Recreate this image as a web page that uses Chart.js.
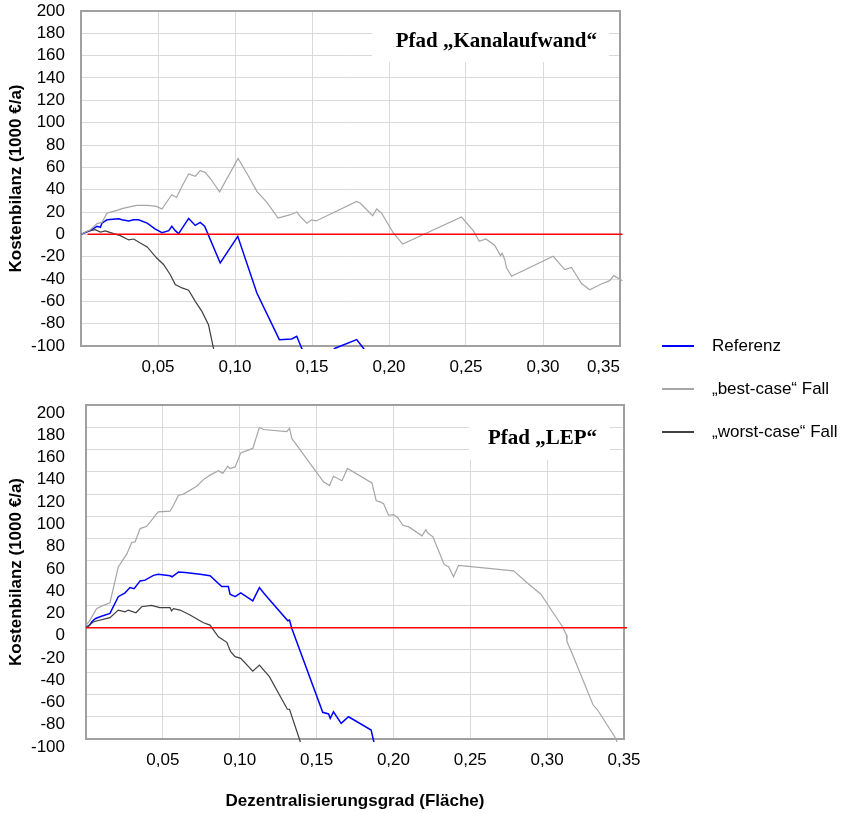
<!DOCTYPE html>
<html lang="de">
<head>
<meta charset="utf-8">
<title>Kostenbilanz</title>
<script src="https://cdn.jsdelivr.net/npm/chart.js@4.4.1/dist/chart.umd.min.js"></script>
<style>
  body { margin: 0; background: #fff; }
  #wrap { position: relative; width: 842px; height: 813px; }
  #box1 { position: absolute; left: 0; top: 0; width: 842px; height: 390px; }
  #box2 { position: absolute; left: 0; top: 390px; width: 842px; height: 423px; }
  #legende { position: absolute; left: 662px; top: 324px; font: 17px "Liberation Sans", Arial, sans-serif; color: #000; }
  .zeile { height: 43.3px; display: flex; align-items: center; }
  .strich { width: 32px; height: 0; border-top: 2px solid; margin-right: 18px; }
</style>
</head>
<body>
<div id="wrap">
  <div id="box1"><canvas id="kanalChart"></canvas></div>
  <div id="box2"><canvas id="lepChart"></canvas></div>
  <div id="legende"></div>
</div>
<script>
// Serien (x = Dezentralisierungsgrad, y = Kostenbilanz in 1000 €/a)
const serienNamen = ['Referenz', '\u201Ebest-case\u201C Fall', '\u201Eworst-case\u201C Fall'];
const serienFarben = ['#0000ff', '#a6a6a6', '#404040'];

// Pfad "Kanalaufwand"
const kanalReferenz = [[0,0],[0.006,3.3],[0.0104,7.2],[0.0126,6.3],[0.0136,10],[0.0169,13],[0.0245,14],[0.0266,13],
  [0.031,12],[0.0342,13],[0.0374,13],[0.043,10],[0.048,4.8],[0.0526,1.5],[0.057,3.3],[0.059,7.2],[0.0612,3.3],
  [0.0634,0.6],[0.0699,14.3],[0.0742,8],[0.0774,10.7],[0.0803,7.2],[0.0828,-0.9],[0.0904,-25.7],[0.1018,-1.8],
  [0.1142,-52.5],[0.1288,-94.3],[0.1368,-93.7],[0.1401,-91.3],[0.1434,-102.4],[0.152,-118],[0.165,-102],
  [0.179,-94.3],[0.1834,-102],[0.188,-115]];
const kanalBest = [[0,0],[0.006,4],[0.0104,9.6],[0.0136,10.7],[0.0169,19],[0.0234,21.5],[0.0266,23],[0.033,25],
  [0.0364,26],[0.043,26],[0.049,25],[0.0526,22.7],[0.056,29.6],[0.059,35.5],[0.062,33],[0.0656,43],[0.0699,54],
  [0.0742,52],[0.0774,57],[0.0806,55.5],[0.084,50],[0.09,38],[0.102,68],[0.1088,52],[0.1142,38.5],[0.1207,28.7],
  [0.128,14.6],[0.136,17.6],[0.1401,20],[0.1423,16],[0.1466,10],[0.1498,13],[0.1527,12],[0.179,29.5],[0.1812,28],
  [0.1894,16.7],[0.192,22.7],[0.1952,19],[0.2028,1.2],[0.2089,-8.7],[0.2471,15.5],[0.2547,3.3],[0.2586,-6.3],
  [0.2629,-4.2],[0.2687,-10],[0.2724,-19],[0.2735,-17],[0.2752,-22.7],[0.2763,-30],[0.2796,-37.6],[0.3066,-19.7],
  [0.3141,-31.6],[0.3185,-29.6],[0.325,-44],[0.3303,-49.6],[0.3379,-44.5],[0.3433,-41.5],[0.3459,-37],[0.3516,-41.5]];
const kanalWorst = [[0,0],[0.0039,2.7],[0.0093,4.2],[0.0126,2],[0.0158,3],[0.0212,0.6],[0.0255,-1.2],[0.031,-5],
  [0.0342,-4.2],[0.0385,-7.8],[0.043,-11.3],[0.049,-21],[0.0536,-27],[0.0579,-36],[0.0612,-45],[0.0656,-48],
  [0.0699,-50],[0.0742,-60],[0.0785,-69],[0.0828,-81],[0.086,-102],[0.088,-115]];
const kanalNulllinie = [[0.0043,0],[0.3516,0]];

// Pfad "LEP"
const lepReferenz = [[0,0],[0.0023,2.3],[0.0038,5.3],[0.006,8],[0.0091,9.8],[0.0156,12.8],[0.021,27.8],[0.0254,31.3],
  [0.0286,36],[0.0313,35],[0.0352,42],[0.0384,42.7],[0.0439,47],[0.047,48],[0.0547,46.6],[0.056,45.7],[0.0602,50],
  [0.0645,49.6],[0.0742,48],[0.0807,46.6],[0.0883,37],[0.0926,37],[0.0937,30],[0.097,27.8],[0.1007,31.3],
  [0.1085,24],[0.1128,36],[0.1155,31.3],[0.1188,26],[0.1313,6.2],[0.1324,6.8],[0.1339,-0.7],[0.154,-76],
  [0.1578,-77.5],[0.1589,-81.5],[0.161,-75.5],[0.166,-86],[0.1708,-80],[0.1855,-92],[0.1875,-104]];
const lepBest = [[0,2],[0.0026,6.8],[0.007,17.3],[0.0113,20],[0.0156,22.4],[0.021,54.6],[0.0265,66],[0.0297,76.5],
  [0.0319,77],[0.0352,89],[0.0395,91],[0.047,104],[0.0547,104.6],[0.0569,110],[0.0602,119],[0.0634,120],[0.072,127],
  [0.0764,133],[0.0807,137],[0.0862,141],[0.089,138.6],[0.0922,145],[0.0937,143],[0.097,144.4],[0.1007,157],
  [0.1085,161],[0.1128,180],[0.1155,178],[0.1306,176],[0.1324,179],[0.1339,170],[0.1545,131],[0.1584,127.6],
  [0.161,136],[0.1665,132],[0.1701,143],[0.186,130],[0.1888,114],[0.1914,113],[0.1936,111.4],[0.1968,101],
  [0.2001,101.6],[0.2027,99],[0.2062,92],[0.21,90.5],[0.2186,82.5],[0.2211,88],[0.2224,85],[0.2257,81.6],
  [0.2283,72.6],[0.233,56.8],[0.2359,54.7],[0.2391,45.7],[0.2424,56],[0.2782,51],[0.2869,40.3],[0.296,30],
  [0.2999,21.7],[0.3103,0.2],[0.3125,-6.6],[0.3129,-12.5],[0.3162,-23],[0.3299,-69.5],[0.3325,-73.3],
  [0.345,-100.2],[0.3455,-104]];
const lepWorst = [[0,0],[0.0023,2.3],[0.0049,5.3],[0.0156,9],[0.021,15.8],[0.0254,14.3],[0.0275,15.8],[0.0325,13.4],
  [0.0362,18.8],[0.0426,20],[0.048,18],[0.0547,18],[0.0557,15],[0.0569,17],[0.0612,15.8],[0.0677,11.3],
  [0.0764,4.4],[0.0807,2.3],[0.0861,-8.2],[0.0916,-13.2],[0.0941,-21.6],[0.097,-26],[0.1007,-27.6],[0.1085,-39],
  [0.1128,-33.6],[0.1193,-44],[0.131,-73.3],[0.1324,-73.3],[0.1393,-102],[0.141,-110]];
const lepNulllinie = [[0,0],[0.352,0]];

// Achsen
const xMin = 0, xMax = 0.35, xSchritt = 0.05;
const yMin = -100, yMax = 200, ySchritt = 20;

Chart.defaults.font.family = '"Liberation Sans", Arial, sans-serif';
Chart.defaults.font.size = 17;
Chart.defaults.color = '#000';

// Rahmen um die Zeichenfläche und weißes Feld mit dem Pfadnamen
const rahmenPlugin = {
    id: 'rahmen',
    beforeDatasetsDraw(chart, args, o) {
        const ctx = chart.ctx, a = chart.chartArea;
        ctx.save();
        ctx.fillStyle = '#fff';
        ctx.fillRect(o.feldX, o.feldY, o.feldW, o.feldH);
        ctx.strokeStyle = '#a0a0a0';
        ctx.lineWidth = 2;
        ctx.strokeRect(a.left, a.top, a.right - a.left, a.bottom - a.top);
        ctx.font = 'bold 21px "Liberation Serif", "Times New Roman", serif';
        ctx.textAlign = 'right';
        ctx.textBaseline = 'middle';
        ctx.fillStyle = '#000';
        ctx.fillText(o.text, o.textX, o.textY);
        ctx.restore();
    }
};

// keine automatische Randzugabe für die Beschriftungen
function ohneRand(sc) {
    sc.paddingTop = 0;
    sc.paddingBottom = 0;
    sc.paddingLeft = 0;
    sc.paddingRight = 0;
}

function linie(label, punkte, farbe, breite) {
    return {
        label: label,
        data: punkte.map(p => ({ x: p[0], y: p[1] })),
        borderColor: farbe,
        borderWidth: breite,
        pointRadius: 0,
        tension: 0,
        fill: false,
        clip: { left: 0, top: 0, right: 4, bottom: 3 }
    };
}

function kostenChart(id, ref, best, worst, nulllinie, s) {
    const ctx = document.getElementById(id).getContext('2d');
    return new Chart(ctx, {
        type: 'line',
        data: {
            datasets: [
                linie('Nulllinie', nulllinie, '#ff0000', 1.5),
                linie(serienNamen[1], best, serienFarben[1], 1.2),
                linie(serienNamen[2], worst, serienFarben[2], 1.2),
                linie(serienNamen[0], ref, serienFarben[0], 1.5)
            ]
        },
        options: {
            responsive: true,
            maintainAspectRatio: false,
            animation: false,
            layout: { padding: { left: 0, top: s.oben, right: s.rechts, bottom: 0 } },
            plugins: {
                legend: { display: false },
                tooltip: { enabled: false },
                rahmen: s.feld
            },
            scales: {
                x: {
                    type: 'linear',
                    min: xMin,
                    max: xMax,
                    afterFit: sc => { sc.height = s.xHoehe; ohneRand(sc); },
                    grid: { color: '#d9d9d9', drawTicks: false },
                    border: { display: false },
                    ticks: {
                        stepSize: xSchritt,
                        autoSkip: false,
                        maxRotation: 0,
                        padding: 11,
                        align: s.xAlign,
                        callback: v => (v === 0 ? '' : v.toFixed(2).replace('.', ','))
                    },
                    title: {
                        display: s.xTitel,
                        text: 'Dezentralisierungsgrad (Fl\u00e4che)',
                        font: { weight: 'bold', size: 17 },
                        padding: { top: 0, bottom: 1 }
                    }
                },
                y: {
                    min: yMin,
                    max: yMax,
                    afterFit: sc => { sc.width = s.yBreite; ohneRand(sc); },
                    grid: { color: '#d9d9d9', drawTicks: false },
                    border: { display: false },
                    ticks: {
                        stepSize: ySchritt,
                        autoSkip: false,
                        padding: s.yAbstand,
                        labelOffset: s.yVersatz,
                        callback: v => String(v)
                    },
                    title: {
                        display: true,
                        text: 'Kostenbilanz (1000 \u20ac/a)',
                        font: { weight: 'bold', size: 17 },
                        padding: { top: 6, bottom: 0 }
                    }
                }
            }
        },
        plugins: [rahmenPlugin]
    });
}

// Oberes Diagramm: Pfad "Kanalaufwand"
kostenChart('kanalChart', kanalReferenz, kanalBest, kanalWorst, kanalNulllinie, {
    oben: 11, rechts: 222, xHoehe: 44, yBreite: 81, yAbstand: 16, yVersatz: 0,
    xAlign: 'inner', xTitel: false,
    feld: { feldX: 372, feldY: 12, feldW: 237, feldH: 50,
            text: 'Pfad \u201EKanalaufwand\u201C', textX: 597, textY: 42 }
});

// Unteres Diagramm: Pfad "LEP"
kostenChart('lepChart', lepReferenz, lepBest, lepWorst, lepNulllinie, {
    oben: 15, rechts: 218, xHoehe: 74, yBreite: 86, yAbstand: 21, yVersatz: 8,
    xAlign: 'center', xTitel: true,
    feld: { feldX: 469, feldY: 16, feldW: 141, feldH: 54,
            text: 'Pfad \u201ELEP\u201C', textX: 597, textY: 49 }
});

// Legende rechts zwischen den Diagrammen
const legende = document.getElementById('legende');
serienNamen.forEach((name, i) => {
    const zeile = document.createElement('div');
    zeile.className = 'zeile';
    const strich = document.createElement('div');
    strich.className = 'strich';
    strich.style.borderTopColor = serienFarben[i];
    const text = document.createElement('span');
    text.textContent = name;
    zeile.appendChild(strich);
    zeile.appendChild(text);
    legende.appendChild(zeile);
});
</script>
</body>
</html>
